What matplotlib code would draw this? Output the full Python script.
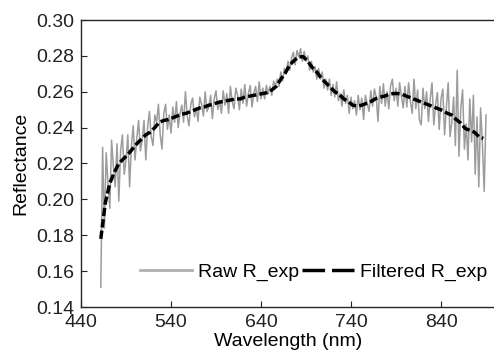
import numpy as np
import matplotlib
matplotlib.use("Agg")
import matplotlib.pyplot as plt
from matplotlib.lines import Line2D

plt.rcParams['font.family'] = ['Liberation Sans', 'DejaVu Sans']
plt.rcParams['font.size'] = 14

# 原始反射率，462-890 nm，每 2 nm 一个点
raw_start, raw_step = 462, 2
raw_r = [
    0.151, 0.229, 0.184, 0.226, 0.209, 0.195, 0.233, 0.218, 0.207, 0.231,
    0.199, 0.227, 0.236, 0.214, 0.222, 0.236, 0.207, 0.230, 0.241, 0.222,
    0.234, 0.244, 0.227, 0.233, 0.244, 0.222, 0.240, 0.249, 0.235, 0.230,
    0.247, 0.243, 0.253, 0.236, 0.228, 0.248, 0.253, 0.239, 0.247, 0.237,
    0.2515, 0.243, 0.2545, 0.240, 0.248, 0.2525, 0.243, 0.260, 0.2465, 0.241,
    0.253, 0.2565, 0.246, 0.251, 0.2435, 0.257, 0.253, 0.2465, 0.260, 0.249,
    0.2515, 0.258, 0.245, 0.256, 0.2605, 0.250, 0.255, 0.248, 0.2605, 0.2525,
    0.259, 0.248, 0.263, 0.2545, 0.2505, 0.262, 0.258, 0.250, 0.2615, 0.2535,
    0.264, 0.252, 0.259, 0.2635, 0.2515, 0.259, 0.263, 0.2545, 0.2655, 0.256,
    0.262, 0.256, 0.2635, 0.259, 0.263, 0.258, 0.266, 0.263, 0.267, 0.263,
    0.271, 0.266, 0.273, 0.271, 0.277, 0.272, 0.279, 0.282, 0.275, 0.283,
    0.2795, 0.284, 0.277, 0.2825, 0.277, 0.280, 0.272, 0.277, 0.271, 0.274,
    0.267, 0.273, 0.267, 0.271, 0.262, 0.267, 0.261, 0.267, 0.258, 0.264,
    0.257, 0.2655, 0.255, 0.259, 0.252, 0.261, 0.2535, 0.258, 0.248, 0.257,
    0.2505, 0.255, 0.247, 0.258, 0.250, 0.2565, 0.2445, 0.258, 0.2535, 0.249,
    0.2605, 0.252, 0.2615, 0.257, 0.2435, 0.263, 0.2535, 0.2645, 0.252, 0.260,
    0.2505, 0.2635, 0.267, 0.255, 0.262, 0.252, 0.265, 0.2575, 0.251, 0.263,
    0.2515, 0.265, 0.2545, 0.248, 0.267, 0.2505, 0.261, 0.2445, 0.2415, 0.262,
    0.2505, 0.260, 0.2435, 0.256, 0.265, 0.2415, 0.253, 0.2595, 0.239, 0.256,
    0.2615, 0.236, 0.2515, 0.265, 0.235, 0.243, 0.257, 0.230, 0.272, 0.224,
    0.251, 0.261, 0.228, 0.242, 0.222, 0.256, 0.232, 0.258, 0.214, 0.246,
    0.207, 0.251, 0.231, 0.2045, 0.247,
]

# 滤波后反射率，462-887 nm，每 5 nm 一个点
filt_start, filt_step = 462, 5
filt_r = [
    0.178, 0.198, 0.209, 0.215, 0.220, 0.2225, 0.225, 0.228, 0.231, 0.2335,
    0.236, 0.2375, 0.240, 0.243, 0.244, 0.2445, 0.2455, 0.2465, 0.2475, 0.248,
    0.249, 0.250, 0.251, 0.2515, 0.2525, 0.253, 0.254, 0.2545, 0.255, 0.2555,
    0.256, 0.256, 0.257, 0.2575, 0.258, 0.2585, 0.259, 0.2595, 0.261, 0.263,
    0.267, 0.2705, 0.275, 0.2775, 0.2795, 0.2795, 0.277, 0.2735, 0.271, 0.2675,
    0.265, 0.2625, 0.260, 0.2585, 0.256, 0.2545, 0.2525, 0.252, 0.2525, 0.2535,
    0.2545, 0.256, 0.257, 0.2575, 0.2585, 0.259, 0.259, 0.2585, 0.2575, 0.2565,
    0.2555, 0.2545, 0.2535, 0.2525, 0.2515, 0.2505, 0.2495, 0.248, 0.247, 0.2445,
    0.2425, 0.2395, 0.2385, 0.2375, 0.235, 0.234,
]

xticks = [440, 540, 640, 740, 840]
yticks = [0.14, 0.16, 0.18, 0.20, 0.22, 0.24, 0.26, 0.28, 0.30]

raw_wl = raw_start + raw_step * np.arange(len(raw_r))
filt_wl = filt_start + filt_step * np.arange(len(filt_r))

fig = plt.figure(figsize=(4.94, 3.63), dpi=100)
ax = fig.add_axes([81 / 494, 56 / 363, 414 / 494, 287 / 363])

ax.plot(raw_wl, raw_r, color='#9c9c9c', lw=1.1)
ax.plot(filt_wl, filt_r, color='black', lw=2.5, dashes=(2.4, 0.9))

ax.set_xlim(440, 900)
ax.set_ylim(0.14, 0.30)
ax.set_xticks(xticks)
ax.set_yticks(yticks)
ax.set_yticklabels([f'{v:.2f}' for v in yticks])
ax.tick_params(direction='in', length=4, width=0.8, colors='#222222',
               labelcolor='#222222', pad=5)
for s in ax.spines.values():
    s.set_color('#2b2424')
    s.set_linewidth(1.0)

ax.set_xlabel('Wavelength (nm)', labelpad=1.5)
ax.set_ylabel('Reflectance', labelpad=5)

# 图例
h_raw = Line2D([], [], color='#b0b0b0', lw=2.0)
h_filt = Line2D([], [], color='black', lw=2.5, dashes=(6.5, 2))
ax.legend([h_raw, h_filt], ['Raw R_exp', 'Filtered R_exp'], ncol=2,
          frameon=False, loc='center left', bbox_to_anchor=(0.1425, 0.122),
          borderpad=0, borderaxespad=0, handlelength=2.67,
          handletextpad=0.3, columnspacing=0.15)

fig.savefig('out.png', dpi=100)
